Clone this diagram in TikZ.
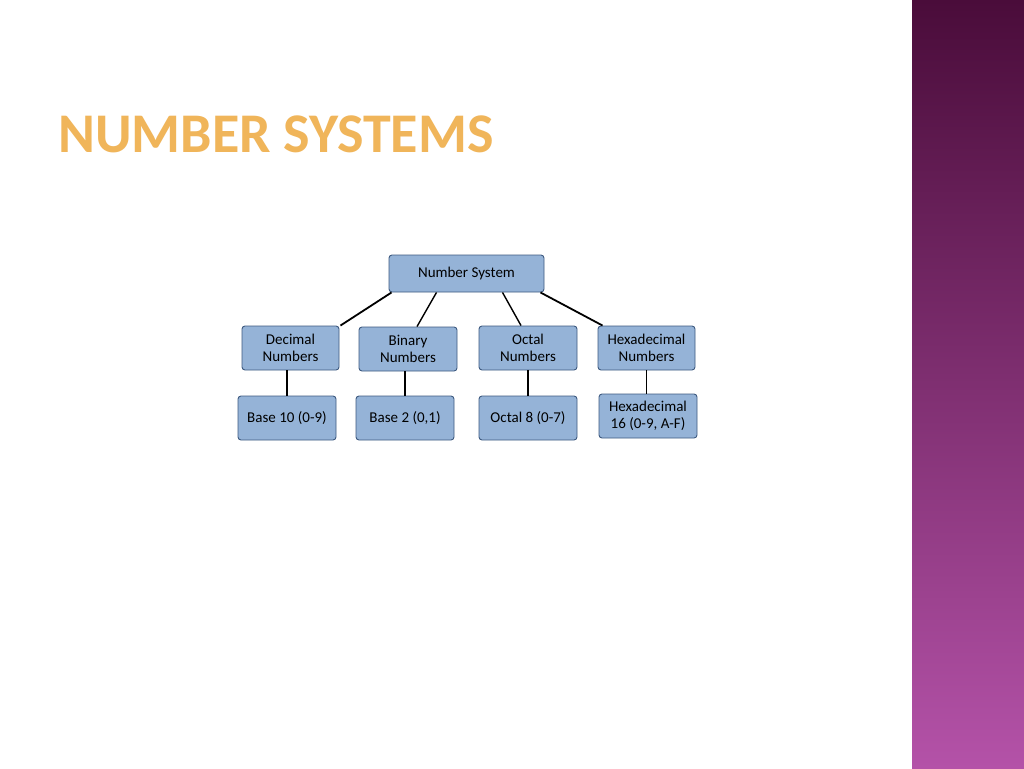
\documentclass[tikz,border=0pt]{standalone}
\usepackage{fontspec}
\setmainfont{Carlito}
\usetikzlibrary{shapes.geometric}
\definecolor{boxfill}{HTML}{95B3D7}
\definecolor{boxline}{HTML}{3E5A80}
\definecolor{titleor}{HTML}{F0B55A}
\definecolor{bartop}{HTML}{4A0C3A}
\definecolor{barbot}{HTML}{B452A8}
\tikzset{
  nbox/.style={draw=boxline, line width=0.9pt, fill=boxfill, rounded corners=3pt, align=center, font=\fontsize{15}{17}\selectfont, inner sep=0pt},
  conn/.style={line width=1.8pt, black}
}
\begin{document}
\begin{tikzpicture}[x=1pt,y=-1pt]
\useasboundingbox (0,0) rectangle (1024,768);
\fill[white] (0,0) rectangle (1024,768);
\shade[top color=bartop, bottom color=barbot] (912,0) rectangle (1024,768);
\node[anchor=base west, text=titleor, font=\fontsize{56}{60}\selectfont\bfseries, inner sep=0pt] (title) at (58,152) {NUMBER SYSTEMS};
\node[nbox, minimum width=155pt, minimum height=37pt] (root) at (466.5,273.5) {Number System};
\node[nbox, minimum width=97pt, minimum height=44pt] (dec) at (290.5,348) {Decimal\\Numbers};
\node[nbox, minimum width=98pt, minimum height=44pt] (bin) at (408,349) {Binary\\Numbers};
\node[nbox, minimum width=98pt, minimum height=44pt] (oct) at (528,348) {Octal\\Numbers};
\node[nbox, minimum width=97pt, minimum height=44pt] (hex) at (646.5,348) {Hexadecimal\\Numbers};
\node[nbox, minimum width=98pt, minimum height=44pt] (b10) at (287,418) {Base 10 (0-9)};
\node[nbox, minimum width=98pt, minimum height=44pt] (b2) at (405,418) {Base 2 (0,1)};
\node[nbox, minimum width=98pt, minimum height=44pt] (b8) at (528,418) {Octal 8 (0-7)};
\node[nbox, minimum width=98pt, minimum height=44pt] (b16) at (648,416) {Hexadecimal\\16 (0-9, A-F)};
\draw[conn] (root.south west)+(3,0) -- ([xshift=1pt]dec.north east);
\draw[conn, line width=1.4pt] ([xshift=-30pt]root.south) -- ([xshift=9pt]bin.north);
\draw[conn, line width=1.4pt] ([xshift=36pt]root.south) -- ([xshift=-7pt]oct.north);
\draw[conn] ([xshift=-4pt]root.south east) -- ([xshift=5pt]hex.north west);
\draw[conn, line width=1.4pt] (dec.south -| b10) -- (b10.north);
\draw[conn, line width=1.4pt] (bin.south -| b2) -- (b2.north);
\draw[conn, line width=1.4pt] (oct.south) -- (b8.north);
\draw[conn, line width=1.4pt] (hex.south) -- (hex.south |- b16.north);
\end{tikzpicture}
\end{document}
